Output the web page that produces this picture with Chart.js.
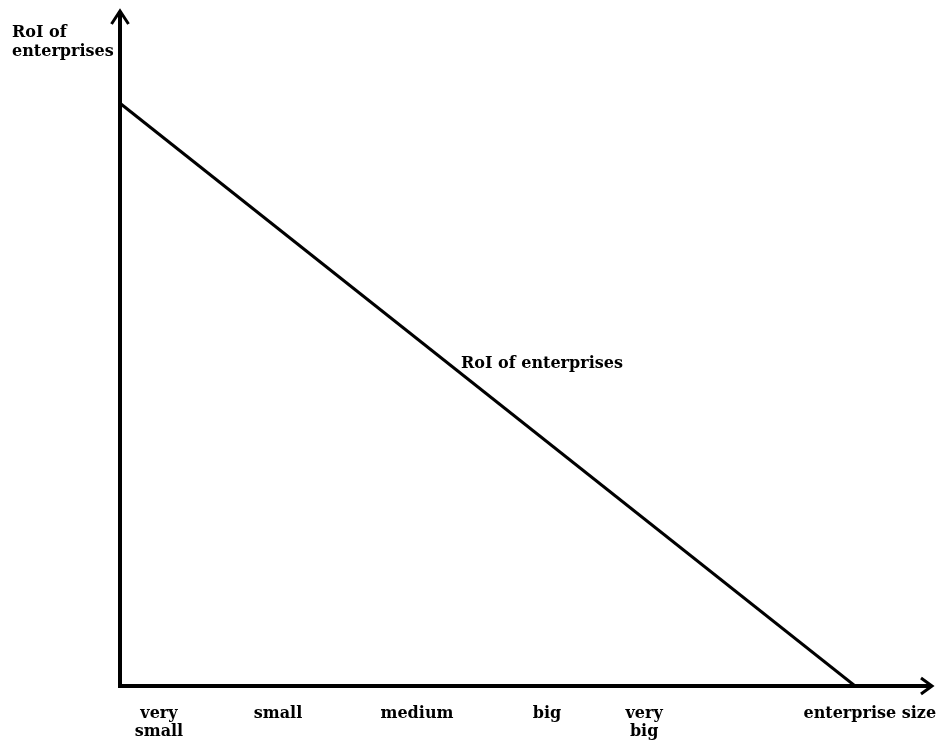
<!DOCTYPE html>
<html>
<head>
<meta charset="utf-8">
<script src="https://cdn.jsdelivr.net/npm/chart.js@4/dist/chart.umd.min.js"></script>
<style>
  html, body { margin: 0; padding: 0; background: #fff; }
  #chart { display: block; }
</style>
</head>
<body>
<canvas id="chart" width="937" height="743"></canvas>
<script>
// RoI vs enterprise size — one falling line, hand-drawn style axes with arrows
const lineX = [0, 100];
const lineY = [100, 0];

const tickValues = [5.3, 21.5, 40.4, 58.1, 71.3, 102.0];
const tickLabels = [['very', 'small'], 'small', 'medium', 'big', ['very', 'big'], 'enterprise size'];

const yTitle = ['RoI of', 'enterprises'];
const lineLabel = 'RoI of enterprises';
const lineLabelAt = [46.4, 54.5];

const FONT = 'bold 16px "DejaVu Serif", "Liberation Serif", serif';

const axesPlugin = {
  id: 'arrowAxes',
  afterDatasetsDraw(chart){
    const ctx = chart.ctx;
    const xs = chart.scales.x, ys = chart.scales.y;
    const ca = chart.chartArea;
    const x0 = xs.getPixelForValue(0);
    const y0 = ys.getPixelForValue(0);
    ctx.save();
    ctx.strokeStyle = '#000';
    ctx.lineCap = 'butt';
    // shafts
    ctx.lineWidth = 4;
    ctx.beginPath();
    ctx.moveTo(x0, y0 + 2); ctx.lineTo(x0, ca.top + 1);
    ctx.moveTo(x0 - 2, y0); ctx.lineTo(ca.right - 1, y0);
    ctx.stroke();
    // arrow heads
    ctx.lineWidth = 3;
    ctx.lineJoin = 'miter';
    ctx.beginPath();
    ctx.moveTo(x0 - 8.5, ca.top + 14); ctx.lineTo(x0, ca.top + 1); ctx.lineTo(x0 + 8.5, ca.top + 14);
    ctx.moveTo(ca.right - 12, y0 - 8); ctx.lineTo(ca.right - 1, y0); ctx.lineTo(ca.right - 12, y0 + 8);
    ctx.stroke();
    // texts
    ctx.fillStyle = '#000';
    ctx.font = FONT;
    ctx.textAlign = 'left';
    ctx.textBaseline = 'alphabetic';
    ctx.fillText(yTitle[0], 12, 37);
    ctx.fillText(yTitle[1], 12, 56);
    ctx.fillText(lineLabel, xs.getPixelForValue(lineLabelAt[0]), ys.getPixelForValue(lineLabelAt[1]));
    ctx.restore();
  }
};

new Chart(document.getElementById('chart'), {
  type: 'line',
  data: {
    datasets: [{
      data: lineX.map((x, i) => ({ x: x, y: lineY[i] })),
      borderColor: '#000',
      borderWidth: 3,
      pointRadius: 0,
      tension: 0,
      fill: false
    }]
  },
  options: {
    responsive: false,
    animation: false,
    devicePixelRatio: 1,
    layout: { padding: { left: 120, right: 4, top: 10, bottom: 0 } },
    plugins: { legend: { display: false }, tooltip: { enabled: false } },
    scales: {
      x: {
        type: 'linear',
        min: 0, max: 110.6,
        grid: { display: false, drawTicks: false },
        border: { display: false },
        afterBuildTicks(scale){ scale.ticks = tickValues.map(v => ({ value: v })); },
        afterFit(scale){ scale.height = 57; scale.paddingLeft = 0; scale.paddingRight = 0; },
        ticks: {
          autoSkip: false, maxRotation: 0, minRotation: 0,
          padding: 19,
          color: '#000',
          font: { family: '"DejaVu Serif", "Liberation Serif", serif', size: 16, weight: 'bold', lineHeight: 1.1 },
          callback: (v, i) => tickLabels[i]
        }
      },
      y: {
        type: 'linear',
        display: false,
        min: 0, max: 116
      }
    }
  },
  plugins: [axesPlugin]
});
</script>
</body>
</html>
